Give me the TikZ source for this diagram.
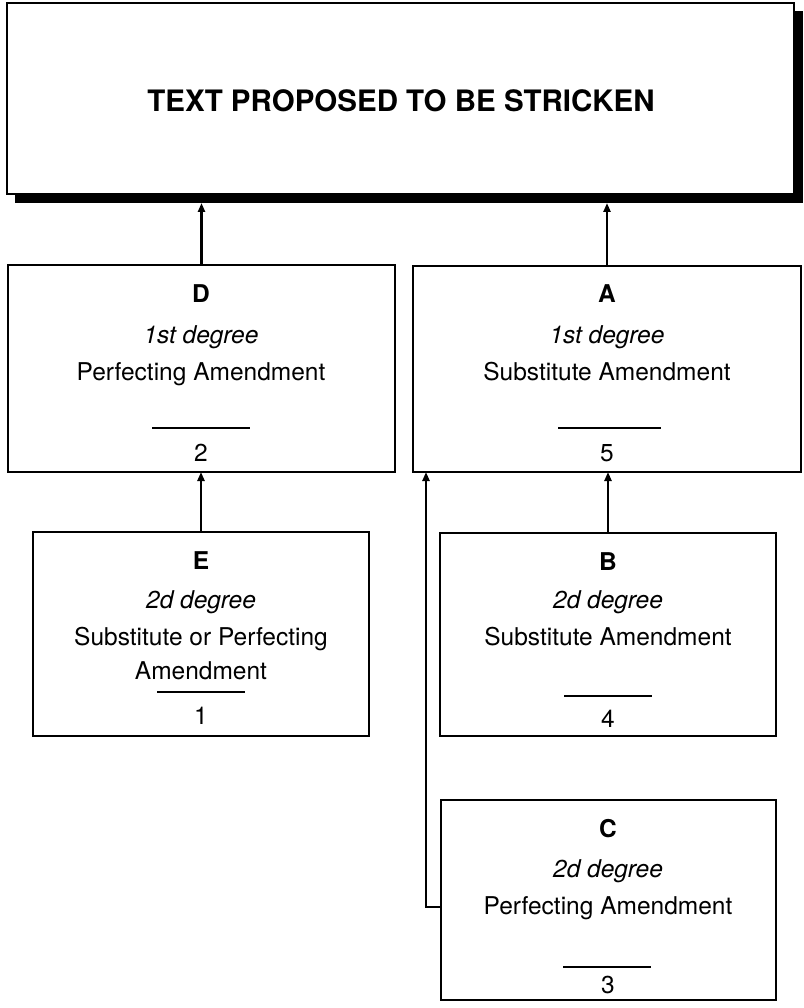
\documentclass[tikz,border=0pt]{standalone}
\usepackage{fontspec}
\setmainfont{TeX Gyre Heros}
\usetikzlibrary{arrows.meta}
\begin{document}
\begin{tikzpicture}[x=1pt,y=-1pt,
  box/.style={draw,line width=2.4pt,fill=white,anchor=north west,inner sep=0pt,outer sep=0pt},
  lbl/.style={anchor=base,inner sep=0pt,font=\fontsize{24.5}{28}\selectfont},
  head/.style={anchor=base,inner sep=0pt,font=\fontsize{24.5}{28}\selectfont\bfseries},
  rulel/.style={line width=1.8pt},
  arr/.style={line width=2.4pt,-{Triangle[length=9pt,width=7pt]}}]
\useasboundingbox (0,0) rectangle (803,1008);
% top box with shadow
\node[anchor=north west,fill=black,inner sep=0pt,outer sep=0pt,minimum width=788pt,minimum height=192pt] (shadow) at (15,11) {};
\node[box,minimum width=787pt,minimum height=191pt] (top) at (7,3) {};
\node[anchor=base,inner sep=0pt,font=\fontsize{29.5}{34}\selectfont\bfseries] (title) at (401,112) {TEXT PROPOSED TO BE STRICKEN};
% boxes
\node[box,minimum width=387pt,minimum height=207pt] (D) at (8,265) {};
\node[box,minimum width=388pt,minimum height=206pt] (A) at (413,266) {};
\node[box,minimum width=336pt,minimum height=204pt] (E) at (33,532) {};
\node[box,minimum width=336pt,minimum height=203pt] (B) at (440,533) {};
\node[box,minimum width=335pt,minimum height=200pt] (C) at (441,800) {};
% D
\node[head] (Dt) at (201,302) {D};
\node[lbl] (Dd) at (201,343) {\itshape 1st degree};
\node[lbl] (Dk) at (201,380) {Perfecting Amendment};
\draw[rulel] (152,428) -- (250,428);
\node[lbl] (Dn) at (201,461) {2};
% A
\node[head] (At) at (607,302) {A};
\node[lbl] (Ad) at (607,343) {\itshape 1st degree};
\node[lbl] (Ak) at (607,380) {Substitute Amendment};
\draw[rulel] (558,428) -- (661,428);
\node[lbl] (An) at (607,461) {5};
% E
\node[head] (Et) at (201,569) {E};
\node[lbl] (Ed) at (201,608) {\itshape 2d degree};
\node[lbl] (Ek) at (201,645) {Substitute or Perfecting};
\node[lbl] (Ek2) at (201,679) {Amendment};
\draw[rulel] (157,692) -- (245,692);
\node[lbl] (En) at (201,724) {1};
% B
\node[head] (Bt) at (608,570) {B};
\node[lbl] (Bd) at (608,608) {\itshape 2d degree};
\node[lbl] (Bk) at (608,645) {Substitute Amendment};
\draw[rulel] (564,696) -- (652,696);
\node[lbl] (Bn) at (608,727) {4};
% C
\node[head] (Ct) at (608,837) {C};
\node[lbl] (Cd) at (608,877) {\itshape 2d degree};
\node[lbl] (Ck) at (608,914) {Perfecting Amendment};
\draw[rulel] (563,967) -- (651,967);
\node[lbl] (Cn) at (608,993) {3};
% connectors
\draw[arr] (D.north) -- (D.north |- shadow.south);
\draw[arr] (A.north) -- (A.north |- shadow.south);
\draw[arr] (E.north) -- (E.north |- D.south);
\draw[arr] (B.north) -- (B.north |- A.south);
\coordinate (cj) at (426,907);
\draw[arr] (C.west |- cj) -- (cj) -- (cj |- A.south);
\end{tikzpicture}
\end{document}
